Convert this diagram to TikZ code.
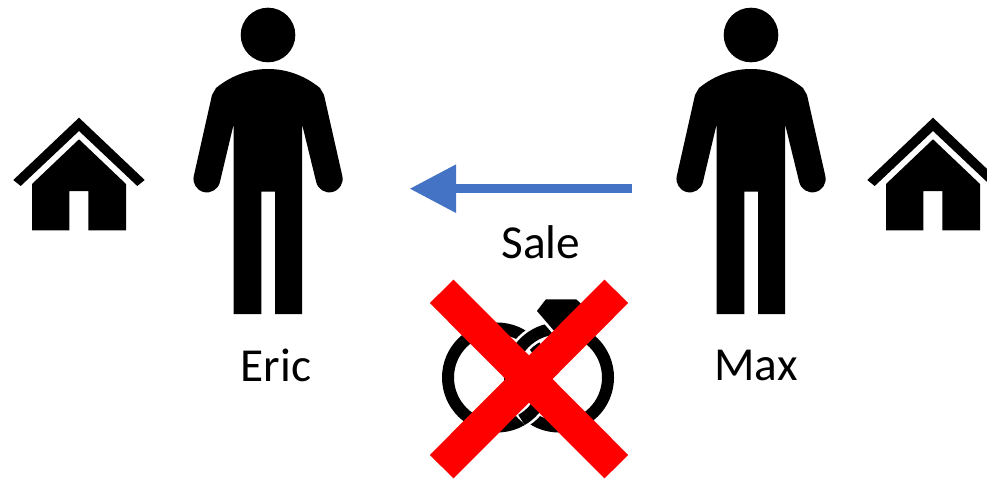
\documentclass[tikz,border=0pt]{standalone}
\usepackage{fontspec}
\setmainfont{Carlito}
\usetikzlibrary{arrows.meta}
\definecolor{salearrow}{HTML}{4472C4}
\tikzset{
  namelabel/.style={font=\fontsize{35.5}{36}\selectfont,inner sep=0pt},
  crossbar/.style={draw=red,line width=25pt},
  ringline/.style={line width=9pt},
  ringgap/.style={draw=white,line width=13pt},
}
\begin{document}
\begin{tikzpicture}[x=0.75pt,y=-0.75pt]
\useasboundingbox (0,0) rectangle (987,478);
\clip (0,0) rectangle (987,478);
% people
\foreach \xx in {268,751}
  {\fill[shift={(\xx,0)}] (0,35) circle (27.3);
   \fill[shift={(\xx,0)}] (0,69) .. controls (-18,69) and (-36,75) .. (-52,88)
     -- (-56,95) -- (-74.2,176) arc[start angle=193,end angle=13,radius=13.4]
     -- (-34.3,124) -- (-34.3,314) -- (-6.7,314) -- (-6.7,191.7) -- (7,191.7)
     -- (7,314) -- (34,314) -- (34,124) -- (48.2,182)
     arc[start angle=167,end angle=-13,radius=13.4]
     -- (56,95) -- (52,88) .. controls (36,75) and (18,69) .. (0,69) -- cycle;}
% houses
\foreach \xx in {0,854}
  {\fill[shift={(\xx,0)}] (79,117.7) -- (144.7,180) -- (137.3,186) -- (79,131)
     -- (20.7,186) -- (13.3,180) -- cycle;
   \fill[shift={(\xx,0)}] (79,139.3) -- (126,184) -- (126,230.3) -- (88.3,230.3)
     -- (88.3,191) -- (69.3,191) -- (69.3,230.3) -- (32,230.3) -- (32,184) -- cycle;}
% labels
\node[namelabel] (eric) at (276,365) {Eric};
\node[namelabel] (max) at (756,365) {Max};
\node[namelabel] (sale) at (541,242) {Sale};
% sale arrow
\coordinate (sellerend) at (631.7,188.7);
\coordinate (buyerend) at (409.5,188.7);
\draw[salearrow,line width=7.1pt,-{Triangle[length=35pt,width=34.5pt]}] (sellerend) -- (buyerend);
% rings, linked
\draw[ringline] (497,377.5) circle (49);
\draw[ringgap] (559,377.5) circle (49);
\draw[ringline] (559,377.5) circle (49);
\draw[ringgap] (497,377.5) ++(-10:49) arc[start angle=-10,end angle=60,radius=49];
\draw[ringline] (497,377.5) ++(-10:49) arc[start angle=-10,end angle=60,radius=49];
\fill[draw=white,line width=2pt] (545,298) -- (577,298) -- (590,310) -- (560,340) -- (535,311) -- cycle;
% red cross
\coordinate (crossa) at (441.7,291.3);
\coordinate (crossb) at (616.3,466.7);
\coordinate (crossc) at (616.3,291.3);
\coordinate (crossd) at (441.7,466.7);
\draw[crossbar] (crossa) -- (crossb);
\draw[crossbar] (crossc) -- (crossd);
\end{tikzpicture}
\end{document}
